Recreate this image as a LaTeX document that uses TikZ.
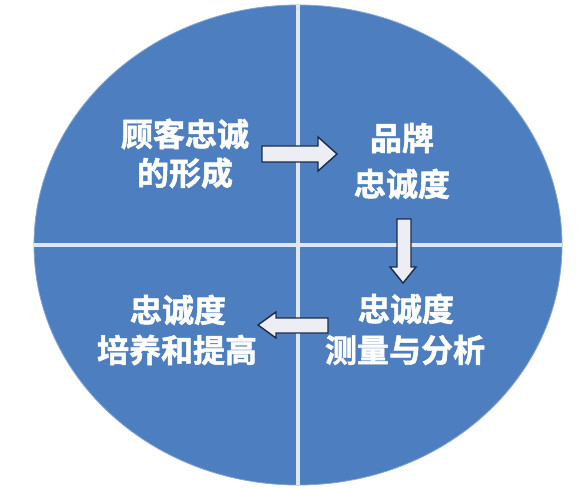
\documentclass[tikz,border=0pt]{standalone}
\usepackage{fontspec}
\newfontfamily\cjk{Noto Sans CJK SC Bold}[FakeBold=1.6]
\definecolor{qblue}{HTML}{4D7FC0}
\definecolor{qline}{HTML}{DCE8F5}
\definecolor{arrfill}{HTML}{ECEEF3}
\definecolor{arrdraw}{HTML}{1C2A4A}
\begin{document}
\begin{tikzpicture}[x=1pt,y=-1pt,
  lbl/.style={font=\cjk\fontsize{32}{32}\selectfont, text=white, inner sep=0pt},
  blockarrow/.style={fill=arrfill, draw=arrdraw, line width=1.4pt, line join=miter}]
\useasboundingbox (0,0) rectangle (588,489);
\fill[white] (0,0) rectangle (588,489);
% disk
\fill[qblue] (298,245) ellipse [x radius=264, y radius=240];
\draw[qblue!70!white, line width=0.8pt] (298,245) ellipse [x radius=264, y radius=240];
% quadrant lines
\draw[qline, line width=3.5pt] (298,5) -- (298,485);
\draw[qline, line width=3.5pt] (34,245) -- (562,245);
% arrows
\draw[blockarrow] (262,146) -- (318,146) -- (318,137) -- (337,154) -- (318,171) -- (318,162) -- (262,162) -- cycle;
\draw[blockarrow] (397,219) -- (411,219) -- (411,267) -- (416,267) -- (403,283) -- (390,267) -- (397,267) -- cycle;
\draw[blockarrow] (328,318) -- (276,318) -- (276,312) -- (258,325) -- (276,338) -- (276,333) -- (328,333) -- cycle;
% labels
\node[lbl] (tl1) at (185,134) {顾客忠诚};
\node[lbl] (tl2) at (185,173) {的形成};
\node[lbl] (tr1) at (402,138) {品牌};
\node[lbl] (tr2) at (402,184) {忠诚度};
\node[lbl] (bl1) at (178,310) {忠诚度};
\node[lbl] (bl2) at (177,350) {培养和提高};
\node[lbl] (br1) at (406,309) {忠诚度};
\node[lbl] (br2) at (405,350) {测量与分析};
\end{tikzpicture}
\end{document}
